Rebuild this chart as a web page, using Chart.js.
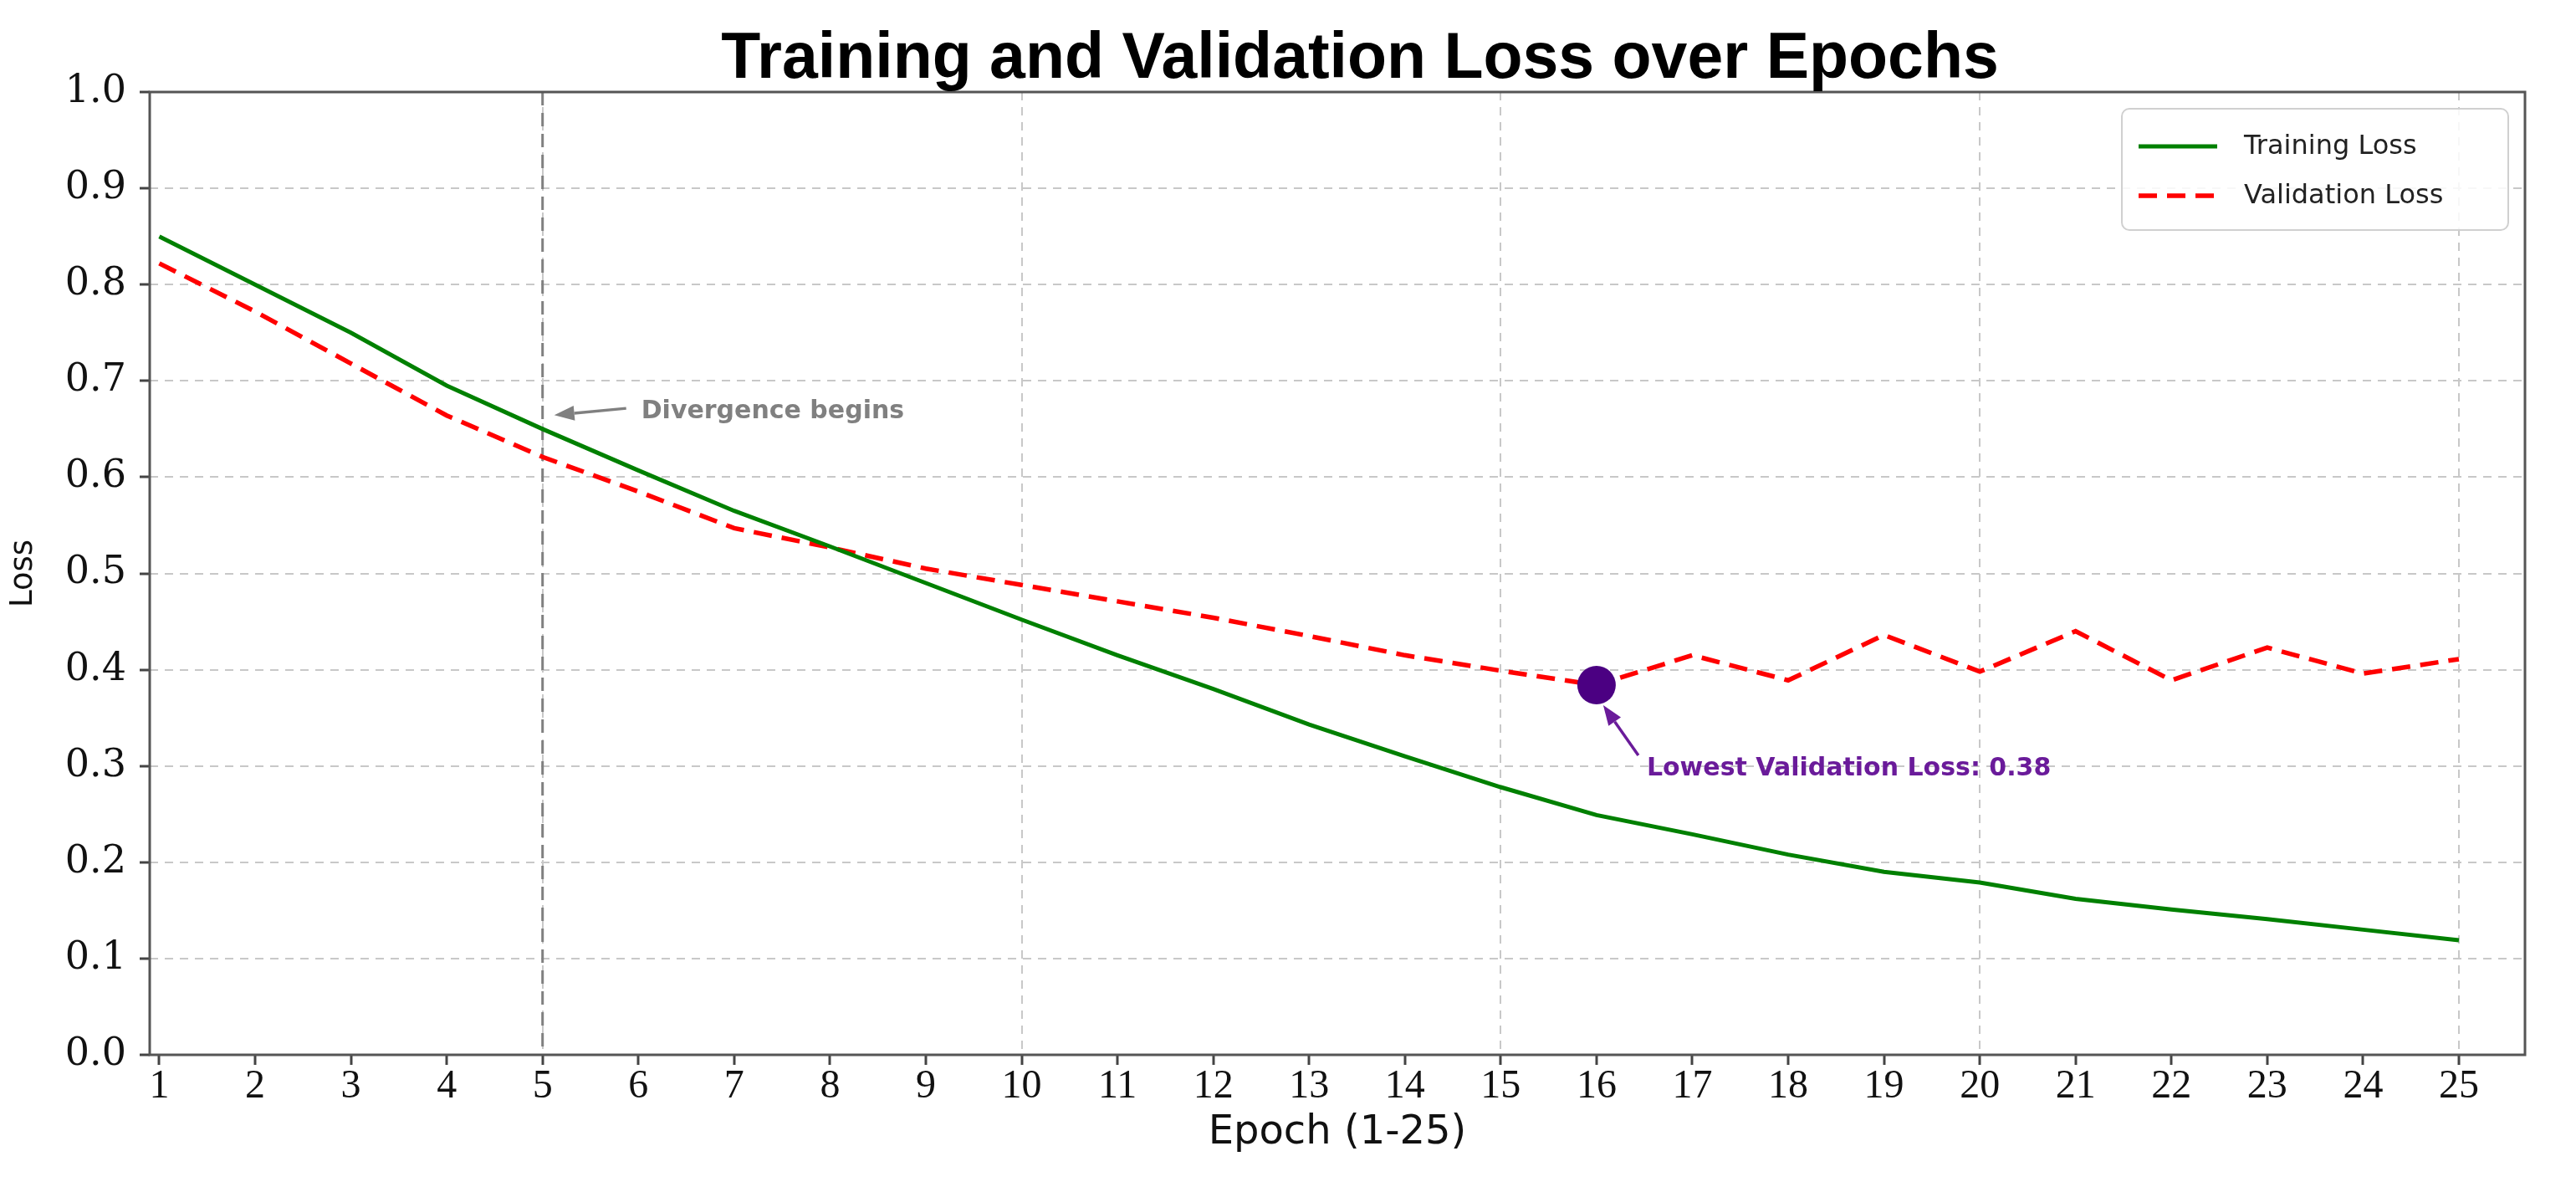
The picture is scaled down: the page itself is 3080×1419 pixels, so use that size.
<!DOCTYPE html>
<html>
<head>
<meta charset="utf-8">
<script src="https://cdn.jsdelivr.net/npm/chart.js@4.4.1/dist/chart.umd.min.js"></script>
<style>
  html, body { margin: 0; padding: 0; background: #fff; }
  canvas { display: block; }
</style>
</head>
<body>
<canvas id="lossChart" width="3080" height="1419"></canvas>
<script>
const epochs = [1, 2, 3, 4, 5, 6, 7, 8, 9, 10, 11, 12, 13, 14, 15, 16, 17, 18, 19, 20, 21, 22, 23, 24, 25];
const trainingLoss = [0.85, 0.80, 0.75, 0.695, 0.65, 0.607, 0.565, 0.528, 0.49, 0.452, 0.415, 0.38, 0.343, 0.31, 0.278, 0.249, 0.229, 0.208, 0.19, 0.179, 0.162, 0.151, 0.141, 0.13, 0.119];
const validationLoss = [0.822, 0.772, 0.718, 0.664, 0.621, 0.585, 0.547, 0.527, 0.505, 0.488, 0.471, 0.454, 0.435, 0.415, 0.399, 0.384, 0.415, 0.389, 0.436, 0.398, 0.44, 0.389, 0.423, 0.396, 0.411];
const yTicks = [0, 0.1, 0.2, 0.3, 0.4, 0.5, 0.6, 0.7, 0.8, 0.9, 1.0];
const divergenceEpoch = 5;

const bestLoss = Math.min(...validationLoss);
const bestEpoch = epochs[validationLoss.indexOf(bestLoss)];

function toPoints(values) {
  return epochs.map((e, i) => ({ x: e, y: values[i] }));
}

function drawArrow(ctx, x1, y1, x2, y2, color, width, headLen, headW) {
  const ang = Math.atan2(y2 - y1, x2 - x1);
  const bx = x2 - headLen * Math.cos(ang);
  const by = y2 - headLen * Math.sin(ang);
  ctx.save();
  ctx.strokeStyle = color;
  ctx.fillStyle = color;
  ctx.lineWidth = width;
  ctx.setLineDash([]);
  ctx.beginPath();
  ctx.moveTo(x1, y1);
  ctx.lineTo(bx, by);
  ctx.stroke();
  ctx.beginPath();
  ctx.moveTo(x2, y2);
  ctx.lineTo(bx + headW / 2 * Math.sin(ang), by - headW / 2 * Math.cos(ang));
  ctx.lineTo(bx - headW / 2 * Math.sin(ang), by + headW / 2 * Math.cos(ang));
  ctx.closePath();
  ctx.fill();
  ctx.restore();
}

const whiteBackground = {
  id: 'whiteBackground',
  beforeDraw(chart) {
    const ctx = chart.ctx;
    ctx.save();
    ctx.fillStyle = '#ffffff';
    ctx.fillRect(0, 0, chart.width, chart.height);
    ctx.restore();
  }
};

const divergenceLine = {
  id: 'divergenceLine',
  beforeDatasetsDraw(chart) {
    const { ctx, chartArea } = chart;
    const x = chart.scales.x.getPixelForValue(divergenceEpoch);
    ctx.save();
    ctx.strokeStyle = '#808080';
    ctx.lineWidth = 3;
    ctx.setLineDash([16, 9]);
    ctx.beginPath();
    ctx.moveTo(x, chartArea.top);
    ctx.lineTo(x, chartArea.bottom);
    ctx.stroke();
    ctx.restore();
  }
};

const decorations = {
  id: 'decorations',
  afterDraw(chart) {
    const { ctx, chartArea } = chart;
    const xs = chart.scales.x, ys = chart.scales.y;

    // frame
    ctx.save();
    ctx.strokeStyle = '#555555';
    ctx.lineWidth = 3;
    ctx.setLineDash([]);
    ctx.strokeRect(chartArea.left, chartArea.top, chartArea.right - chartArea.left, chartArea.bottom - chartArea.top);

    // title
    ctx.fillStyle = '#000000';
    ctx.font = 'bold 77px "Liberation Sans", Arial, sans-serif';
    ctx.textAlign = 'center';
    ctx.textBaseline = 'middle';
    ctx.fillText('Training and Validation Loss over Epochs', (chartArea.left + chartArea.right) / 2 + 27, 72);

    // legend
    const lw = 462, lh = 145;
    const lx = chartArea.right - 20 - lw, ly = chartArea.top + 20;
    ctx.beginPath();
    ctx.roundRect(lx, ly, lw, lh, 9);
    ctx.fillStyle = 'rgba(255,255,255,0.85)';
    ctx.fill();
    ctx.strokeStyle = '#d0d0d0';
    ctx.lineWidth = 2;
    ctx.stroke();
    const items = chart.data.datasets.filter(d => d.inLegend);
    ctx.font = '32px "DejaVu Sans", sans-serif';
    ctx.textAlign = 'left';
    ctx.textBaseline = 'middle';
    items.forEach((d, i) => {
      const y = ly + 45 + i * 59;
      ctx.strokeStyle = d.borderColor;
      ctx.lineWidth = d.borderWidth;
      ctx.setLineDash(d.borderDash || []);
      ctx.beginPath();
      ctx.moveTo(lx + 20, y);
      ctx.lineTo(lx + 114, y);
      ctx.stroke();
      ctx.setLineDash([]);
      ctx.fillStyle = '#222222';
      ctx.fillText(d.label, lx + 146, y + 1);
    });

    // divergence annotation
    const dx = xs.getPixelForValue(divergenceEpoch);
    const dy = ys.getPixelForValue(0.668);
    drawArrow(ctx, dx + 100, dy - 4, dx + 14, dy + 4, '#808080', 3.5, 24, 18);
    ctx.fillStyle = '#808080';
    ctx.font = 'bold 30px "DejaVu Sans", sans-serif';
    ctx.textAlign = 'left';
    ctx.textBaseline = 'middle';
    ctx.fillText('Divergence begins', dx + 118, dy);

    // lowest validation annotation
    const bx = xs.getPixelForValue(bestEpoch);
    const by = ys.getPixelForValue(bestLoss);
    drawArrow(ctx, bx + 50, by + 84, bx + 8, by + 24, '#6a1b9a', 3.5, 24, 18);
    ctx.fillStyle = '#6a1b9a';
    ctx.font = 'bold 30px "DejaVu Sans", sans-serif';
    ctx.fillText('Lowest Validation Loss: ' + bestLoss.toFixed(2), bx + 60, by + 100);
    ctx.restore();
  }
};

new Chart(document.getElementById('lossChart'), {
  type: 'line',
  data: {
    datasets: [
      {
        type: 'scatter',
        label: 'Lowest',
        data: [{ x: bestEpoch, y: bestLoss }],
        backgroundColor: '#4b0082',
        borderWidth: 0,
        pointRadius: 23,
        order: 0
      },
      {
        label: 'Training Loss',
        inLegend: true,
        data: toPoints(trainingLoss),
        borderColor: '#008000',
        borderWidth: 5,
        pointRadius: 0,
        tension: 0,
        order: 1
      },
      {
        label: 'Validation Loss',
        inLegend: true,
        data: toPoints(validationLoss),
        borderColor: '#ff0000',
        borderWidth: 5.5,
        borderDash: [22, 12],
        pointRadius: 0,
        tension: 0,
        order: 2
      }
    ]
  },
  options: {
    responsive: false,
    animation: false,
    devicePixelRatio: 1,
    layout: { padding: { top: 110, right: 61, bottom: 0, left: 0 } },
    plugins: {
      legend: { display: false },
      title: { display: false },
      tooltip: { enabled: false }
    },
    scales: {
      x: {
        type: 'linear',
        min: 0.9,
        max: 25.69,
        afterBuildTicks: scale => { scale.ticks = epochs.map(v => ({ value: v })); },
        afterFit: scale => { scale.height = 158; },
        ticks: {
          autoSkip: false,
          maxRotation: 0,
          padding: 2,
          color: '#111111',
          font: { family: '"Liberation Serif", serif', size: 48, lineHeight: 1 },
          callback: v => String(v)
        },
        grid: {
          color: ctx => (ctx.tick && ctx.tick.value % 5 === 0) ? '#c8c8c8' : 'rgba(0,0,0,0)',
          lineWidth: 2,
          tickColor: '#444444',
          tickLength: 12,
          tickWidth: 3,
          tickBorderDash: []
        },
        border: { display: false, dash: [10, 8] },
        title: {
          display: true,
          text: 'Epoch (1-25)',
          color: '#111111',
          font: { family: '"DejaVu Sans", sans-serif', size: 48, lineHeight: 1.2 },
          padding: { top: 36, bottom: 36 }
        }
      },
      y: {
        min: 0,
        max: 1,
        afterBuildTicks: scale => { scale.ticks = yTicks.map(v => ({ value: v })); },
        afterFit: scale => { scale.width = 179; },
        ticks: {
          padding: 16,
          color: '#111111',
          font: { family: '"DejaVu Serif", serif', size: 46 },
          callback: v => Number(v).toFixed(1)
        },
        grid: {
          color: '#c8c8c8',
          lineWidth: 2,
          tickColor: '#444444',
          tickLength: 12,
          tickWidth: 3,
          tickBorderDash: []
        },
        border: { display: false, dash: [10, 8] },
        title: {
          display: true,
          text: 'Loss',
          color: '#111111',
          font: { family: '"DejaVu Sans", sans-serif', size: 37, lineHeight: 1.2 },
          padding: { top: 6, bottom: 0 }
        }
      }
    }
  },
  plugins: [whiteBackground, divergenceLine, decorations]
});
</script>
</body>
</html>
